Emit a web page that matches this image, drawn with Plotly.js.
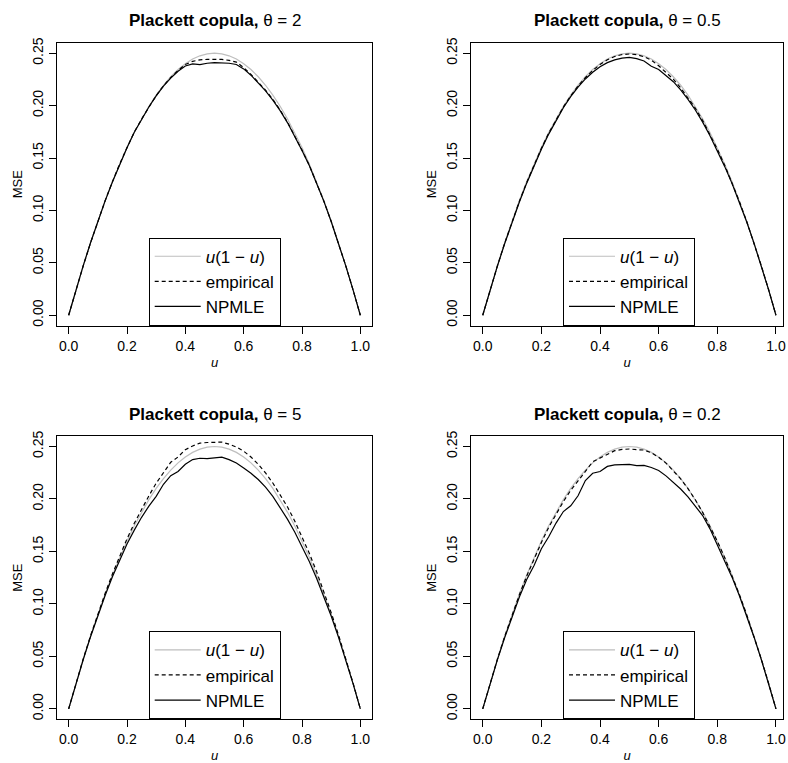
<!DOCTYPE html>
<html>
<head>
<meta charset="utf-8">
<script src="https://cdn.plot.ly/plotly-3.0.1.min.js"></script>
<style>html,body{margin:0;padding:0;background:#fff;}</style>
</head>
<body>
<div id="chart" style="width:788px;height:763px;"></div>
<script>
// Grid of u values
const u = [0,0.025,0.05,0.075,0.1,0.125,0.15,0.175,0.2,0.225,0.25,0.275,0.3,0.325,0.35,0.375,0.4,0.425,0.45,0.475,0.5,
           0.525,0.55,0.575,0.6,0.625,0.65,0.675,0.7,0.725,0.75,0.775,0.8,0.825,0.85,0.875,0.9,0.925,0.95,0.975,1];

// Reference curve u(1-u) (grey)
const refCurve = [0,0.0244,0.0475,0.0694,0.09,0.1094,0.1275,0.1444,0.16,0.1744,0.1875,0.1994,0.21,0.2194,0.2275,0.2344,0.24,0.2444,0.2475,0.2494,0.25,
                  0.2494,0.2475,0.2444,0.24,0.2344,0.2275,0.2194,0.21,0.1994,0.1875,0.1744,0.16,0.1444,0.1275,0.1094,0.09,0.0694,0.0475,0.0244,0];

// theta = 2
const emp_t2 = [0,0.0243,0.0472,0.0690,0.0898,0.1092,0.1272,0.1445,0.1598,0.1747,0.1872,0.1990,0.2095,0.2188,0.2268,0.2335,0.2392,0.2422,0.2436,0.2441,0.2443,
                0.2440,0.2432,0.2415,0.2362,0.2298,0.2222,0.2148,0.2060,0.1958,0.1843,0.1715,0.1575,0.1430,0.1268,0.1088,0.0895,0.0690,0.0472,0.0242,0];
const npmle_t2 = [0,0.0243,0.0473,0.0691,0.0897,0.1091,0.1271,0.1443,0.1597,0.1745,0.1870,0.1987,0.2092,0.2185,0.2262,0.2328,0.2378,0.2398,0.2390,0.2404,0.2410,
                  0.2409,0.2404,0.2392,0.2350,0.2290,0.2215,0.2140,0.2052,0.1952,0.1838,0.1710,0.1572,0.1428,0.1266,0.1086,0.0894,0.0689,0.0471,0.0242,0];

// theta = 0.5
const emp_t05 = [0,0.0242,0.0470,0.0688,0.0893,0.1086,0.1267,0.1436,0.1592,0.1737,0.1868,0.1987,0.2093,0.2186,0.2267,0.2335,0.2392,0.2437,0.2468,0.2487,0.2492,
                 0.2486,0.2466,0.2434,0.2380,0.2320,0.2252,0.2170,0.2078,0.1975,0.1858,0.1728,0.1585,0.1432,0.1267,0.1088,0.0896,0.0691,0.0473,0.0243,0];
const npmle_t05 = [0,0.0241,0.0468,0.0684,0.0888,0.1080,0.1260,0.1428,0.1584,0.1728,0.1860,0.1979,0.2085,0.2176,0.2254,0.2318,0.2370,0.2410,0.2436,0.2452,0.2460,
                   0.2448,0.2425,0.2375,0.2345,0.2290,0.2228,0.2150,0.2060,0.1958,0.1842,0.1712,0.1570,0.1420,0.1258,0.1082,0.0892,0.0688,0.0471,0.0242,0];

// theta = 5
const emp_t5 = [0,0.0244,0.0476,0.0696,0.0903,0.1100,0.1285,0.1458,0.1620,0.1768,0.1905,0.2030,0.2150,0.2252,0.2350,0.2400,0.2470,0.2505,0.2532,0.2538,0.2540,
                0.2542,0.2522,0.2495,0.2455,0.2400,0.2330,0.2248,0.2152,0.2044,0.1925,0.1790,0.1642,0.1482,0.1307,0.1118,0.0917,0.0705,0.0481,0.0246,0];
const npmle_t5 = [0,0.0242,0.0470,0.0687,0.0891,0.1080,0.1258,0.1420,0.1570,0.1703,0.1825,0.1932,0.2025,0.2140,0.2222,0.2262,0.2330,0.2375,0.2388,0.2385,0.2392,
                  0.2398,0.2375,0.2342,0.2295,0.2245,0.2185,0.2112,0.2025,0.1920,0.1808,0.1685,0.1550,0.1405,0.1245,0.1072,0.0884,0.0683,0.0467,0.0240,0];

// theta = 0.2
const emp_t02 = [0,0.0243,0.0472,0.0690,0.0895,0.1087,0.1265,0.1432,0.1585,0.1730,0.1858,0.1975,0.2082,0.2178,0.2262,0.2355,0.2388,0.2425,0.2460,0.2472,0.2476,
                 0.2470,0.2466,0.2440,0.2398,0.2342,0.2272,0.2192,0.2098,0.1992,0.1872,0.1742,0.1598,0.1442,0.1272,0.1092,0.0898,0.0692,0.0474,0.0243,0];
const npmle_t02 = [0,0.0240,0.0466,0.0680,0.0880,0.1065,0.1232,0.1365,0.1525,0.1640,0.1770,0.1880,0.1935,0.2030,0.2175,0.2245,0.2262,0.2310,0.2325,0.2330,0.2330,
                   0.2318,0.2320,0.2300,0.2272,0.2220,0.2160,0.2095,0.2020,0.1935,0.1842,0.1715,0.1562,0.1410,0.1255,0.1080,0.0888,0.0685,0.0470,0.0241,0];

const thetaLabels = ["2", "0.5", "5", "0.2"];
const empSeries = [emp_t2, emp_t05, emp_t5, emp_t02];
const npmleSeries = [npmle_t2, npmle_t05, npmle_t5, npmle_t02];
const legendNames = ["<i>u</i>(1 \u2212 <i>u</i>)", "empirical", "NPMLE"];

const FONT = "Liberation Sans, Arial, Helvetica, sans-serif";
const W = 788, H = 763;

// panel pixel boxes [left, right, top, bottom]
const boxes = [
  [57, 372, 42.7, 325.7],
  [471, 783, 42.7, 325.7],
  [57, 372, 436, 719.3],
  [471, 783, 436, 719.3]
];
const xRanges = [[-0.04, 1.04], [-0.04, 1.024], [-0.04, 1.04], [-0.04, 1.024]];
const legendCenters = [214.7, 629, 214.7, 629];
const titleY = [20, 20, 414.3, 414.3];

const data = [];
const layout = {
  width: W, height: H,
  margin: {l: 0, r: 0, t: 0, b: 0},
  paper_bgcolor: "#fff", plot_bgcolor: "#fff",
  font: {family: FONT, color: "#000"},
  annotations: []
};

for (let p = 0; p < 4; p++) {
  const sfx = p === 0 ? "" : String(p + 1);
  const xa = "x" + sfx, ya = "y" + sfx;
  const lg = "legend" + sfx;
  const series = [
    {y: refCurve, line: {color: "#bebebe", width: 1.2}},
    {y: empSeries[p], line: {color: "#000", width: 1.2, dash: "4px,3px"}},
    {y: npmleSeries[p], line: {color: "#000", width: 1.2}}
  ];
  series.forEach((s, i) => {
    data.push({
      type: "scatter", mode: "lines", x: u, y: s.y,
      xaxis: xa, yaxis: ya, name: legendNames[i], legend: lg,
      line: s.line, hoverinfo: "skip"
    });
  });
  const b = boxes[p];
  layout["xaxis" + sfx] = {
    domain: [b[0] / W, b[1] / W], anchor: ya,
    range: xRanges[p], tickvals: [0, 0.2, 0.4, 0.6, 0.8, 1.0], tickformat: ".1f",
    ticks: "outside", ticklen: 7, tickcolor: "#000", tickwidth: 1,
    showline: true, linecolor: "#000", linewidth: 1, mirror: true,
    showgrid: false, zeroline: false,
    tickfont: {size: 14, family: FONT, color: "#000"},
    title: {text: "<i>u</i>", font: {size: 13, family: FONT, color: "#000"}, standoff: 5}
  };
  layout["yaxis" + sfx] = {
    domain: [1 - b[3] / H, 1 - b[2] / H], anchor: xa,
    range: [-0.01, 0.26], tickvals: [0, 0.05, 0.1, 0.15, 0.2, 0.25], tickformat: ".2f",
    tickangle: -90,
    ticks: "outside", ticklen: 7, tickcolor: "#000", tickwidth: 1,
    showline: true, linecolor: "#000", linewidth: 1, mirror: true,
    showgrid: false, zeroline: false,
    tickfont: {size: 14, family: FONT, color: "#000"},
    title: {text: "MSE", font: {size: 13, family: FONT, color: "#000"}, standoff: 4}
  };
  layout[lg] = {
    x: legendCenters[p] / W, xanchor: "center", xref: "paper",
    y: 1 - b[3] / H, yanchor: "bottom", yref: "paper",
    bgcolor: "#fff", bordercolor: "#000", borderwidth: 1,
    font: {size: 17, family: FONT, color: "#000"},
    traceorder: "normal", itemwidth: 46
  };
  layout.annotations.push({
    xref: "paper", yref: "paper",
    x: (b[0] + b[1]) / 2 / W, y: 1 - titleY[p] / H,
    xanchor: "center", yanchor: "middle", showarrow: false,
    text: "<b>Plackett copula,</b> \u03b8 = " + thetaLabels[p],
    font: {size: 17, family: FONT, color: "#000"}
  });
}

Plotly.newPlot("chart", data, layout, {staticPlot: true, displayModeBar: false});
</script>
</body>
</html>
